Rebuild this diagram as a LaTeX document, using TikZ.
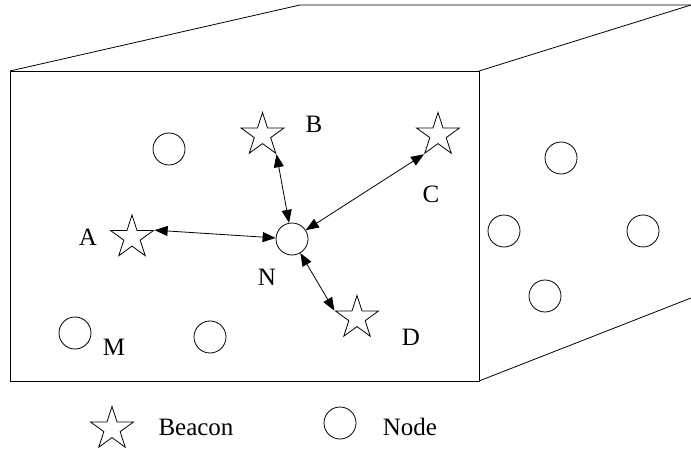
\documentclass[tikz,border=0pt]{standalone}
\usepackage{fontspec}
\setmainfont{Liberation Serif}
\usetikzlibrary{shapes.geometric,arrows.meta}
\begin{document}
\begin{tikzpicture}[x=1bp,y=-1bp,
  edge/.style={line width=0.8bp,black},
  sensor/.style={circle,draw,line width=0.8bp,minimum size=32bp,inner sep=0pt},
  beacon/.style={star,star points=5,star point ratio=2.618,draw,line width=0.8bp,minimum size=45bp,inner sep=0pt},
  lbl/.style={font=\fontsize{25bp}{29bp}\selectfont,inner sep=0pt},
  link/.style={line width=0.8bp,{Triangle[length=13bp,width=10bp]}-{Triangle[length=13bp,width=10bp]}}]
\useasboundingbox (0,0) rectangle (691,452);
% box
\coordinate (f1) at (10,71);
\coordinate (f2) at (479,71);
\coordinate (f3) at (479,381);
\coordinate (f4) at (10,381);
\coordinate (t1) at (300,5);
\coordinate (t2) at (691,5);
\coordinate (r1) at (691,298);
\draw[edge] (f1) -- (f2) -- (f3) -- (f4) -- cycle;
\draw[edge] (f1) -- (t1) -- (t2);
\draw[edge] (f2) -- (t2);
\draw[edge] (f3) -- (r1);
% nodes
\node[sensor] (c1) at (169,149) {};
\node[sensor] (N) at (292,239) {};
\node[sensor] (M) at (75,333) {};
\node[sensor] (c2) at (210,337) {};
\node[sensor] (c3) at (561,158) {};
\node[sensor] (c4) at (504,231) {};
\node[sensor] (c5) at (643,231) {};
\node[sensor] (c6) at (545,296) {};
% beacons
\node[beacon] (A) at (132,237.5) {};
\node[beacon] (B) at (262.5,135) {};
\node[beacon] (C) at (438,135) {};
\node[beacon] (D) at (357,318) {};
% labels
\node[lbl] (lA) at (88,237) {A};
\node[lbl] (lB) at (314,124) {B};
\node[lbl] (lC) at (431,194) {C};
\node[lbl] (lD) at (411,337) {D};
\node[lbl] (lN) at (267,277) {N};
\node[lbl] (lM) at (114,347) {M};
% links
\draw[link] (A.outer point 5) -- (N);
\draw[link] (B.outer point 4) -- (N);
\draw[link] (C.outer point 3) -- (N);
\draw[link] (D.outer point 2) -- (N);
% legend
\node[beacon] (legB) at (112,429) {};
\node[lbl] (legBt) at (196,427) {Beacon};
\node[sensor] (legN) at (340,423) {};
\node[lbl] (legNt) at (410,427) {Node};
\end{tikzpicture}
\end{document}
